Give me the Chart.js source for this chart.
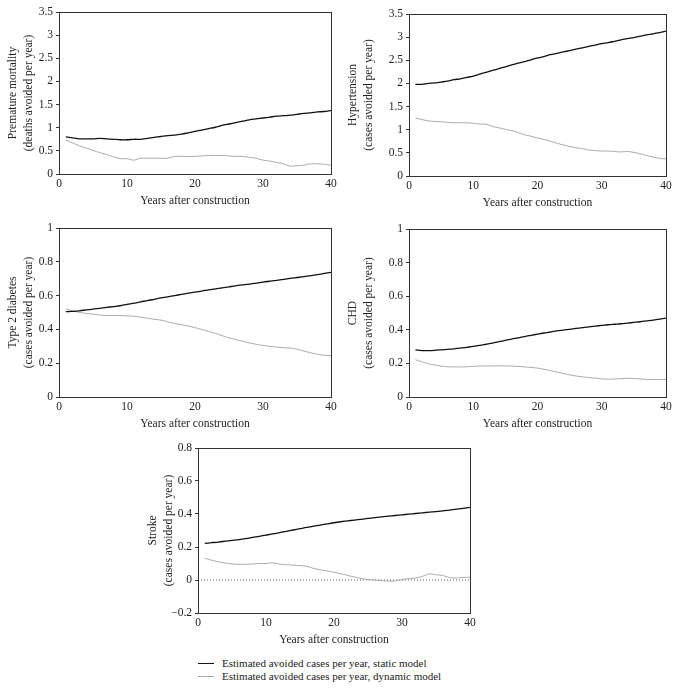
<!DOCTYPE html>
<html>
<head>
<meta charset="utf-8">
<script src="https://cdn.jsdelivr.net/npm/chart.js@4.4.1/dist/chart.umd.min.js"></script>
<style>
  body { margin: 0; background: #fff; }
  #page { position: relative; width: 678px; height: 690px; font-family: "Liberation Serif", serif; }
  .box { position: absolute; }
  #legend { position: absolute; left: 198px; top: 657px; font-size: 11px; color: #222; line-height: 13px; }
  #legend .row { display: flex; align-items: center; }
  #legend .swatch { width: 16px; height: 0; margin-right: 8px; }
</style>
</head>
<body>
<div id="page">
  <div class="box" style="left:0;top:0;width:340px;height:215px"><canvas id="c1"></canvas></div>
  <div class="box" style="left:340px;top:0;width:338px;height:215px"><canvas id="c2"></canvas></div>
  <div class="box" style="left:0;top:215px;width:340px;height:215px"><canvas id="c3"></canvas></div>
  <div class="box" style="left:340px;top:215px;width:338px;height:215px"><canvas id="c4"></canvas></div>
  <div class="box" style="left:140px;top:430px;width:340px;height:215px"><canvas id="c5"></canvas></div>
  <div id="legend">
    <div class="row"><span class="swatch" style="border-top:1.5px solid #111"></span>Estimated avoided cases per year, static model</div>
    <div class="row"><span class="swatch" style="border-top:1px solid #aaa"></span>Estimated avoided cases per year, dynamic model</div>
  </div>
</div>
<script>
const years = [];
for (let i = 1; i <= 40; i++) years.push(i);

const mortalityStatic = [0.80,0.78,0.76,0.76,0.76,0.77,0.76,0.75,0.74,0.74,0.75,0.75,0.77,0.79,0.81,0.83,0.84,0.86,0.89,0.92,0.95,0.98,1.01,1.05,1.08,1.11,1.14,1.17,1.19,1.21,1.23,1.25,1.26,1.27,1.29,1.31,1.32,1.34,1.35,1.37];
const mortalityDynamic = [0.74,0.67,0.61,0.56,0.51,0.46,0.42,0.37,0.33,0.33,0.30,0.34,0.34,0.34,0.34,0.34,0.38,0.38,0.38,0.38,0.39,0.40,0.40,0.40,0.39,0.38,0.38,0.36,0.34,0.30,0.28,0.25,0.22,0.17,0.18,0.19,0.22,0.22,0.21,0.19];

const hypertensionStatic = [1.98,1.98,2.00,2.01,2.03,2.05,2.08,2.10,2.13,2.16,2.20,2.24,2.28,2.32,2.36,2.40,2.44,2.47,2.51,2.55,2.58,2.62,2.65,2.68,2.71,2.74,2.77,2.80,2.83,2.86,2.88,2.91,2.94,2.97,2.99,3.02,3.05,3.07,3.10,3.13];
const hypertensionDynamic = [1.25,1.22,1.19,1.18,1.17,1.16,1.15,1.15,1.15,1.14,1.12,1.12,1.07,1.04,1.01,0.98,0.94,0.89,0.86,0.82,0.79,0.75,0.71,0.67,0.64,0.61,0.59,0.56,0.55,0.54,0.54,0.53,0.52,0.53,0.51,0.48,0.44,0.41,0.38,0.37];

const diabetesStatic = [0.505,0.507,0.51,0.515,0.52,0.525,0.53,0.535,0.54,0.548,0.555,0.563,0.57,0.578,0.586,0.593,0.60,0.607,0.614,0.621,0.627,0.634,0.64,0.646,0.652,0.658,0.663,0.668,0.674,0.68,0.685,0.69,0.696,0.702,0.707,0.712,0.718,0.724,0.731,0.738];
const diabetesDynamic = [0.52,0.51,0.50,0.495,0.49,0.485,0.482,0.482,0.482,0.48,0.478,0.472,0.466,0.46,0.455,0.445,0.435,0.428,0.42,0.41,0.40,0.388,0.376,0.363,0.35,0.34,0.33,0.32,0.312,0.305,0.30,0.295,0.292,0.29,0.283,0.272,0.262,0.253,0.247,0.245];

const chdStatic = [0.28,0.276,0.276,0.278,0.281,0.284,0.287,0.291,0.296,0.301,0.307,0.314,0.321,0.329,0.337,0.345,0.352,0.36,0.367,0.374,0.381,0.387,0.393,0.398,0.403,0.408,0.413,0.418,0.422,0.426,0.43,0.433,0.436,0.44,0.444,0.448,0.453,0.458,0.464,0.47];
const chdDynamic = [0.222,0.21,0.198,0.19,0.184,0.18,0.179,0.179,0.18,0.182,0.184,0.185,0.185,0.185,0.185,0.184,0.182,0.179,0.176,0.172,0.165,0.157,0.149,0.14,0.132,0.125,0.12,0.116,0.112,0.108,0.106,0.107,0.109,0.111,0.11,0.108,0.105,0.104,0.104,0.104];

const strokeStatic = [0.222,0.226,0.23,0.235,0.24,0.245,0.251,0.258,0.265,0.272,0.279,0.287,0.295,0.303,0.311,0.319,0.326,0.333,0.34,0.347,0.353,0.358,0.363,0.368,0.373,0.378,0.383,0.387,0.391,0.395,0.399,0.403,0.407,0.411,0.415,0.419,0.424,0.429,0.434,0.44];
const strokeDynamic = [0.132,0.12,0.11,0.103,0.097,0.095,0.095,0.097,0.10,0.10,0.104,0.096,0.093,0.09,0.087,0.083,0.07,0.062,0.055,0.047,0.038,0.028,0.018,0.01,0.003,0.0,-0.004,-0.007,-0.006,0.003,0.008,0.012,0.022,0.037,0.032,0.027,0.015,0.012,0.016,0.016];

const xTicks = [0, 10, 20, 30, 40];

const font = { family: '"Liberation Serif", serif', size: 11.5 };
const titleFont = { family: '"Liberation Serif", serif', size: 11.5, lineHeight: 1.4 };
const axisColor = '#333';

// draws the box round the plot area
const frame = {
  id: 'frame',
  afterDraw(chart) {
    const a = chart.chartArea, c = chart.ctx;
    c.save();
    c.strokeStyle = axisColor;
    c.lineWidth = 1;
    c.strokeRect(Math.round(a.left) + 0.5, Math.round(a.top) + 0.5, Math.round(a.right - a.left), Math.round(a.bottom - a.top));
    c.restore();
  }
};

function pts(vals) {
  return vals.map((v, i) => ({ x: years[i], y: v }));
}

// 3 rather than 3.0, and a real minus sign
function fmt(v) {
  return String(Math.round(v * 10) / 10).replace('-', '\u2212');
}

function makeChart(id, o) {
  const datasets = [
    { data: pts(o.stat), borderColor: '#111', borderWidth: 1.3, pointRadius: 0, tension: 0.3 },
    { data: pts(o.dyn), borderColor: '#aaa', borderWidth: 1, pointRadius: 0, tension: 0.3 }
  ];
  if (o.zeroLine) {
    datasets.push({ data: [{ x: 0, y: 0 }, { x: 40, y: 0 }], borderColor: '#555', borderWidth: 1, borderDash: [1, 2], pointRadius: 0 });
  }
  new Chart(document.getElementById(id), {
    type: 'line',
    data: { datasets: datasets },
    options: {
      responsive: true,
      maintainAspectRatio: false,
      animation: false,
      layout: { padding: { top: o.padTop, right: o.padRight, left: 0, bottom: 215 - o.bottom - 34 } },
      plugins: { legend: { display: false }, tooltip: { enabled: false } },
      scales: {
        x: {
          type: 'linear', min: 0, max: 40,
          afterBuildTicks: s => { s.ticks = xTicks.map(v => ({ value: v })); },
          grid: { display: false, drawTicks: false },
          border: { display: false },
          ticks: { font: font, color: '#222', padding: 3, maxRotation: 0 },
          title: { display: true, text: 'Years after construction', font: font, color: '#222', padding: { top: 3, bottom: 0 } },
          afterFit: s => { s.height = 34; }
        },
        y: {
          min: o.min, max: o.max,
          ticks: { stepSize: o.step, font: font, color: '#222', padding: 3, callback: fmt },
          grid: { drawOnChartArea: false, tickLength: 3, color: axisColor },
          border: { display: false },
          title: { display: true, text: o.title, font: titleFont, color: '#222', padding: { top: 5, bottom: 4 } },
          afterFit: s => { s.width = o.yWidth; }
        }
      }
    },
    plugins: [frame]
  });
}

makeChart('c1', { stat: mortalityStatic, dyn: mortalityDynamic, min: 0, max: 3.5, step: 0.5,
  title: ['Premature mortality', '(deaths avoided per year)'], yWidth: 59, bottom: 174, padTop: 12, padRight: 9 });
makeChart('c2', { stat: hypertensionStatic, dyn: hypertensionDynamic, min: 0, max: 3.5, step: 0.5,
  title: ['Hypertension', '(cases avoided per year)'], yWidth: 69, bottom: 176, padTop: 14, padRight: 12 });
makeChart('c3', { stat: diabetesStatic, dyn: diabetesDynamic, min: 0, max: 1, step: 0.2,
  title: ['Type 2 diabetes', '(cases avoided per year)'], yWidth: 59, bottom: 182, padTop: 13, padRight: 9 });
makeChart('c4', { stat: chdStatic, dyn: chdDynamic, min: 0, max: 1, step: 0.2,
  title: ['CHD', '(cases avoided per year)'], yWidth: 69, bottom: 182, padTop: 14, padRight: 12 });
makeChart('c5', { stat: strokeStatic, dyn: strokeDynamic, min: -0.2, max: 0.8, step: 0.2, zeroLine: true,
  title: ['Stroke', '(cases avoided per year)'], yWidth: 58, bottom: 183, padTop: 18, padRight: 10 });
</script>
</body>
</html>
